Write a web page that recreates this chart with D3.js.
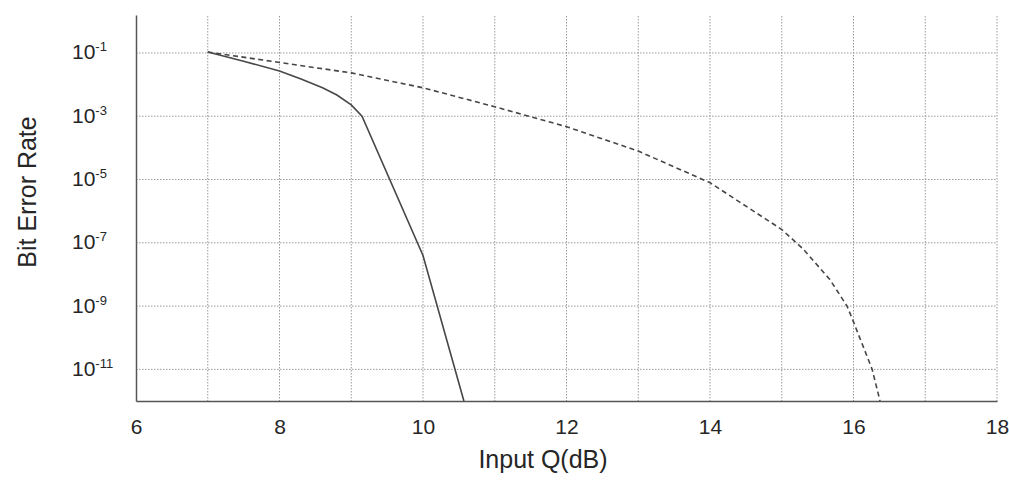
<!DOCTYPE html>
<html>
<head>
<meta charset="utf-8">
<title>Bit Error Rate vs Input Q</title>
<style>
  body { margin: 0; background: #fff; }
  svg text { font-family: "Liberation Sans", Arial, sans-serif; fill: #262626; }
  .grid line { stroke: #9a9a9a; stroke-width: 1; stroke-dasharray: 1.5,1.5; }
  .axis path { stroke: #555; stroke-width: 1.5; }
</style>
</head>
<body>
<svg id="chart" width="1009" height="491"></svg>
<script src="https://d3js.org/d3.v7.min.js"></script>
<script>
// values, BER as log10
var xTicks = [6, 8, 10, 12, 14, 16, 18];
var xGrid = [7, 8, 9, 10, 11, 12, 13, 14, 15, 16, 17, 18];
var yTicks = [-1, -3, -5, -7, -9, -11];

var solidQ   = [7, 7.5, 8, 8.3, 8.6, 8.8, 9, 9.15, 10, 10.57];
var solidBER = [-0.97, -1.26, -1.57, -1.82, -2.1, -2.33, -2.64, -3.0, -7.4, -12];

var dashQ   = [7, 8, 9, 10, 11, 12, 13, 14, 15, 15.3, 15.67, 15.91, 16, 16.26, 16.37];
var dashBER = [-0.97, -1.3, -1.63, -2.1, -2.7, -3.33, -4.1, -5.1, -6.58, -7.2, -8.16, -9, -9.5, -11, -12];

var svg = d3.select("#chart");
var plotL = 136, plotR = 997, plotT = 15, plotB = 401;

var x = d3.scaleLinear().domain([6, 18]).range([plotL, plotR]);
var y = d3.scaleLog().domain([1e-12, Math.pow(10, 0.2)]).range([plotB, plotT]);

// grid
var grid = svg.append("g").attr("class", "grid");
grid.selectAll(".v").data(xGrid).enter().append("line")
    .attr("x1", function(d) { return x(d); })
    .attr("x2", function(d) { return x(d); })
    .attr("y1", plotT + 1)
    .attr("y2", plotB);
grid.selectAll(".h").data(yTicks).enter().append("line")
    .attr("x1", plotL)
    .attr("x2", plotR)
    .attr("y1", function(d) { return y(Math.pow(10, d)); })
    .attr("y2", function(d) { return y(Math.pow(10, d)); });

// axes
var xAxis = svg.append("g").attr("class", "axis")
    .attr("transform", "translate(0," + plotB + ")")
    .call(d3.axisBottom(x).tickValues(xTicks).tickSize(0).tickPadding(18).tickSizeOuter(0));
xAxis.selectAll("text").style("font-size", "21px");

var yAxis = svg.append("g").attr("class", "axis")
    .attr("transform", "translate(" + plotL + ",0)")
    .call(d3.axisLeft(y).tickValues(yTicks.map(function(d) { return Math.pow(10, d); }))
        .tickSize(0).tickSizeOuter(0).tickFormat(""));

yAxis.selectAll(".tick").each(function(d) {
    var e = Math.round(Math.log10(d));
    var t = d3.select(this).select("text")
        .attr("x", -64).attr("dy", null).attr("y", 6)
        .attr("text-anchor", "start")
        .style("font-size", "21px");
    t.append("tspan").text("10");
    t.append("tspan").attr("dy", -8).style("font-size", "13px").text("-" + Math.abs(e));
});

// curves
var line = d3.line()
    .x(function(d) { return x(d[0]); })
    .y(function(d) { return y(Math.pow(10, d[1])); });

svg.append("path")
    .datum(d3.zip(solidQ, solidBER))
    .attr("d", line)
    .attr("fill", "none")
    .attr("stroke", "#474747")
    .attr("stroke-width", 1.6);

svg.append("path")
    .datum(d3.zip(dashQ, dashBER))
    .attr("d", line)
    .attr("fill", "none")
    .attr("stroke", "#474747")
    .attr("stroke-width", 1.6)
    .attr("stroke-dasharray", "5,3.5");

// titles
svg.append("text")
    .attr("x", 543).attr("y", 468)
    .attr("text-anchor", "middle")
    .style("font-size", "25px")
    .text("Input Q(dB)");

svg.append("text")
    .attr("transform", "translate(36,192) rotate(-90)")
    .attr("text-anchor", "middle")
    .style("font-size", "25px")
    .text("Bit Error Rate");
</script>
</body>
</html>
